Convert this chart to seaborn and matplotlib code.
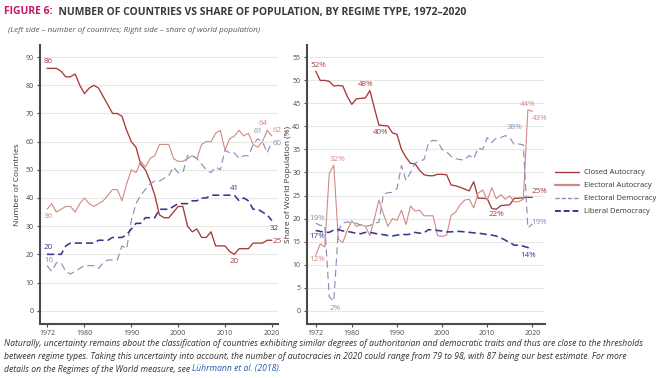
import numpy as np
import pandas as pd
import matplotlib
matplotlib.use("Agg")
import matplotlib.pyplot as plt
import seaborn as sns
from matplotlib.lines import Line2D

# Regimes of the World, 1972-2020
years = list(range(1972, 2021))

# number of countries
closed_n = [86, 86, 86, 85, 83, 83, 84, 80, 77, 79, 80, 79, 76, 73, 70, 70, 69, 64, 60, 58,
            52, 50, 46, 41, 34, 33, 33, 35, 37, 37, 30, 28, 29, 26, 26, 28, 23, 23, 23, 21,
            20, 22, 22, 22, 24, 24, 24, 25, 25]
elect_aut_n = [36, 38, 35, 36, 37, 37, 35, 38, 40, 38, 37, 38, 39, 41, 43, 43, 39, 45, 50, 49,
               53, 51, 54, 55, 59, 59, 59, 54, 53, 53, 54, 55, 54, 59, 60, 60, 63, 64, 57, 61,
               62, 64, 62, 63, 59, 58, 60, 64, 62]
elect_dem_n = [16, 14, 17, 17, 14, 13, 14, 15, 16, 16, 16, 15, 17, 18, 18, 18, 23, 22, 32, 38,
               41, 43, 45, 46, 46, 47, 48, 51, 49, 49, 55, 55, 54, 52, 50, 49, 51, 50, 57, 56,
               56, 54, 55, 55, 59, 61, 60, 56, 60]
lib_dem_n = [20, 20, 20, 20, 23, 24, 24, 24, 24, 24, 24, 25, 25, 25, 26, 26, 26, 27, 29, 31,
             31, 33, 33, 33, 36, 36, 36, 37, 38, 38, 38, 39, 39, 40, 40, 41, 41, 41, 41, 41,
             41, 39, 40, 39, 36, 36, 35, 34, 32]

# share of world population (%)
closed_p = [52, 50, 50, 49.8, 48.8, 48.9, 48.8, 46.5, 44.8, 46, 46.1, 46.2, 47.8, 44, 40.3,
            40.2, 40.1, 38.6, 38.3, 35, 33.3, 32, 31.9, 30.5, 29.5, 29.3, 29.3, 29.6, 29.6,
            29.5, 27.3, 27.1, 26.8, 26.4, 26.0, 28, 24.4, 24.4, 24.3, 22.2, 22.0, 22.8, 22.9,
            23.0, 24.4, 24.4, 24.5, 24.6, 24.6]
elect_aut_p = [12, 14.5, 13.8, 29.8, 31.6, 15.5, 14.8, 17.5, 19.5, 18.3, 18.7, 18.3, 16.3, 20,
               24, 21, 18.3, 20, 19.6, 21.8, 18.7, 22.7, 21.6, 21.8, 20.6, 20.6, 20.6, 16.3,
               16.1, 16.4, 20.7, 21.4, 23, 24, 24.2, 22.3, 25.5, 26.2, 24, 26.7, 24.3, 25.2,
               24.2, 24.9, 23.6, 23.7, 24.2, 43.6, 43.3]
elect_dem_p = [19, 18.5, 18.5, 3, 2, 17.5, 19, 19.3, 19, 19, 18.5, 18.3, 18.5, 19, 19.2, 25.3,
               25.6, 25.7, 26.5, 31.5, 28.3, 30, 32, 32.5, 32.8, 36.5, 37, 36.8, 35, 34.5, 33.5,
               33, 32.8, 32.7, 33.7, 33, 35.3, 35, 37.6, 36.5, 37.5, 37.6, 38, 37.6, 36, 36.2,
               36, 18, 18.8]
lib_dem_p = [17.4, 17.2, 17, 17, 17.5, 17.6, 17.3, 17.2, 17, 16.8, 16.7, 17, 17, 16.8, 16.6,
             16.5, 16.3, 16.2, 16.4, 16.6, 16.5, 16.6, 17, 16.8, 16.9, 17.6, 17.5, 17.4, 17.3,
             17.1, 17.1, 17.2, 17.2, 17.1, 17.0, 16.9, 16.8, 16.7, 16.5, 16.4, 16.2, 15.8,
             15.3, 14.8, 14.2, 14.2, 14.0, 13.7, 13.5]

regimes = ["Closed Autocracy", "Electoral Autocracy", "Electoral Democracy", "Liberal Democracy"]
colors = ["#a63a38", "#cf8a84", "#8e8ebd", "#3b358f"]
dashes = {"Closed Autocracy": "", "Electoral Autocracy": "",
          "Electoral Democracy": (6, 3.5), "Liberal Democracy": (4.5, 2.5)}
widths = [0.95, 0.8, 0.85, 1.15]

df_n = pd.DataFrame({"Year": years * 4,
                     "Value": closed_n + elect_aut_n + elect_dem_n + lib_dem_n,
                     "Regime": sum([[r] * len(years) for r in regimes], [])})
df_p = pd.DataFrame({"Year": years * 4,
                     "Value": closed_p + elect_aut_p + elect_dem_p + lib_dem_p,
                     "Regime": sum([[r] * len(years) for r in regimes], [])})

sns.set_theme(style="white")
plt.rcParams["font.family"] = ["Open Sans", "DejaVu Sans"]

fig = plt.figure(figsize=(6.61, 3.78), dpi=100)
ax1 = fig.add_axes([0.0605, 0.143, 0.360, 0.738])
ax2 = fig.add_axes([0.464, 0.143, 0.3605, 0.738])

for ax, df in [(ax1, df_n), (ax2, df_p)]:
    sns.lineplot(data=df, x="Year", y="Value", hue="Regime", style="Regime",
                 palette=dict(zip(regimes, colors)), dashes=dashes, ax=ax, legend=False)
    for line, w in zip(ax.lines, widths):
        line.set_linewidth(w)
    ax.set_xticks([1972, 1980, 1990, 2000, 2010, 2020])
    ax.grid(axis="y", color="#e8e8e8", linewidth=0.8)
    ax.set_axisbelow(True)
    for s in ["top", "right"]:
        ax.spines[s].set_visible(False)
    for s in ["left", "bottom"]:
        ax.spines[s].set_color("#4a4a4a")
        ax.spines[s].set_linewidth(1.5)
    ax.tick_params(axis="both", labelsize=5, colors="#4a4a4a", length=2.5, width=0.8,
                   direction="out", bottom=True, left=True, pad=2)
    ax.set_xlabel("")

ax1.set_xlim(1970.5, 2021.3)
ax1.set_ylim(-4.7, 94.3)
ax1.set_yticks(range(0, 91, 10))
ax1.set_ylabel("Number of Countries", fontsize=6, color="#333333", labelpad=3)

ax2.set_xlim(1970, 2022.8)
ax2.set_ylim(-2.9, 57.7)
ax2.set_yticks(range(0, 56, 5))
ax2.set_ylabel("Share of World Population (%)", fontsize=6, color="#333333", labelpad=0.5)


def lab(ax, year, vals, text, color, dx, dy, ha="center"):
    i = years.index(year)
    ax.annotate(text, (year, vals[i]), xytext=(dx, dy), textcoords="offset points",
                fontsize=5.8, color=color, ha=ha, va="center")


c0, c1, c2, c3 = colors
# left panel labels
lab(ax1, 1972, closed_n, f"{closed_n[0]}", c0, 1, 5)
lab(ax1, 1972, elect_aut_n, f"{elect_aut_n[0]}", c1, 1, -5)
lab(ax1, 1972, lib_dem_n, f"{lib_dem_n[0]}", c3, 1, 5)
lab(ax1, 1972, elect_dem_n, f"{elect_dem_n[0]}", c2, 1, 4)
lab(ax1, 2019, elect_aut_n, f"{elect_aut_n[-2]}", c1, -3, 5)
lab(ax1, 2020, elect_aut_n, f"{elect_aut_n[-1]}", c1, 4, 4)
lab(ax1, 2017, elect_dem_n, f"{elect_dem_n[-4]}", c2, 0, 5)
lab(ax1, 2020, elect_dem_n, f"{elect_dem_n[-1]}", c2, 4, -1)
lab(ax1, 2012, lib_dem_n, f"{lib_dem_n[years.index(2012)]}", c3, 0, 5)
lab(ax1, 2020, lib_dem_n, f"{lib_dem_n[-1]}", c3, 2, -6)
lab(ax1, 2012, closed_n, f"{closed_n[years.index(2012)]}", c0, 0, -5)
lab(ax1, 2020, closed_n, f"{closed_n[-1]}", c0, 4, -1)

# right panel labels
lab(ax2, 1972, closed_p, f"{closed_p[0]:.0f}%", c0, 2, 4)
lab(ax2, 1984, closed_p, f"{closed_p[years.index(1984)]:.0f}%", c0, -3, 4)
lab(ax2, 1986, closed_p, f"{closed_p[years.index(1986)]:.0f}%", c0, 1, -5)
lab(ax2, 1976, elect_aut_p, f"{elect_aut_p[4]:.0f}%", c1, 3, 4)
lab(ax2, 1972, elect_aut_p, f"{elect_aut_p[0]:.0f}%", c1, 1, -3)
lab(ax2, 1972, elect_dem_p, f"{elect_dem_p[0]:.0f}%", c2, 1, 3)
lab(ax2, 1972, lib_dem_p, f"{lib_dem_p[0]:.0f}%", c3, 1, -4)
lab(ax2, 1976, elect_dem_p, f"{elect_dem_p[4]:.0f}%", c2, 1, -5)
lab(ax2, 2014, elect_dem_p, f"{elect_dem_p[years.index(2014)]:.0f}%", c2, 7, 6)
lab(ax2, 2019, elect_aut_p, f"{elect_aut_p[-2]:.0f}%", c1, 0, 4)
lab(ax2, 2020, elect_aut_p, f"{elect_aut_p[-1]:.0f}%", c1, 5, -5)
lab(ax2, 2020, closed_p, f"{closed_p[-1]:.0f}%", c0, 5, 4)
lab(ax2, 2012, closed_p, f"{closed_p[years.index(2012)]:.0f}%", c0, 0, -4)
lab(ax2, 2020, elect_dem_p, f"{elect_dem_p[-1]:.0f}%", c2, 5, 1)
lab(ax2, 2020, lib_dem_p, f"{lib_dem_p[-1]:.0f}%", c3, -3, -5)

# legend
handles = [Line2D([], [], color=c, lw=w, linestyle="-" if i < 2 else (0, (3, 1.5)))
           for i, (c, w) in enumerate(zip(colors, [1.0, 1.6, 1.0, 1.4]))]
fig.legend(handles, regimes, loc="upper left", bbox_to_anchor=(548 / 661, 1 - 162 / 378),
           frameon=False, fontsize=5.5, handlelength=3.2, labelspacing=0.75,
           labelcolor="#333333", handletextpad=0.6)

# title and notes
t = fig.text(4 / 661, 1 - 12 / 378, "FIGURE 6:", fontsize=7.5, fontweight="bold",
             color="#c2186a", va="center")
ax1.annotate("  NUMBER OF COUNTRIES VS SHARE OF POPULATION, BY REGIME TYPE, 1972\u20132020",
             xy=(1, 0), xycoords=t, va="bottom", fontsize=7.5, fontweight="bold",
             color="#3a3a3a", annotation_clip=False)
fig.text(8 / 661, 1 - 30 / 378,
         "(Left side \u2013 number of countries; Right side \u2013 share of world population)",
         fontsize=5.8, style="italic", color="#555555", va="center")

notes = ["Naturally, uncertainty remains about the classification of countries exhibiting similar "
         "degrees of authoritarian and democratic traits and thus are close to the thresholds",
         "between regime types. Taking this uncertainty into account, the number of autocracies "
         "in 2020 could range from 79 to 98, with 87 being our best estimate. For more",
         "details on the Regimes of the World measure, see "]
for k, line in enumerate(notes):
    tn = fig.text(4 / 661, 1 - (344 + 12.5 * k) / 378, line, fontsize=6.2, style="italic",
                  color="#333333", va="center")
ax1.annotate("L\u00fchrmann et al. (2018).", xy=(1, 0), xycoords=tn, va="bottom",
             fontsize=6.2, style="italic", color="#2a5db0", annotation_clip=False)

fig.savefig("out.png", dpi=100)
